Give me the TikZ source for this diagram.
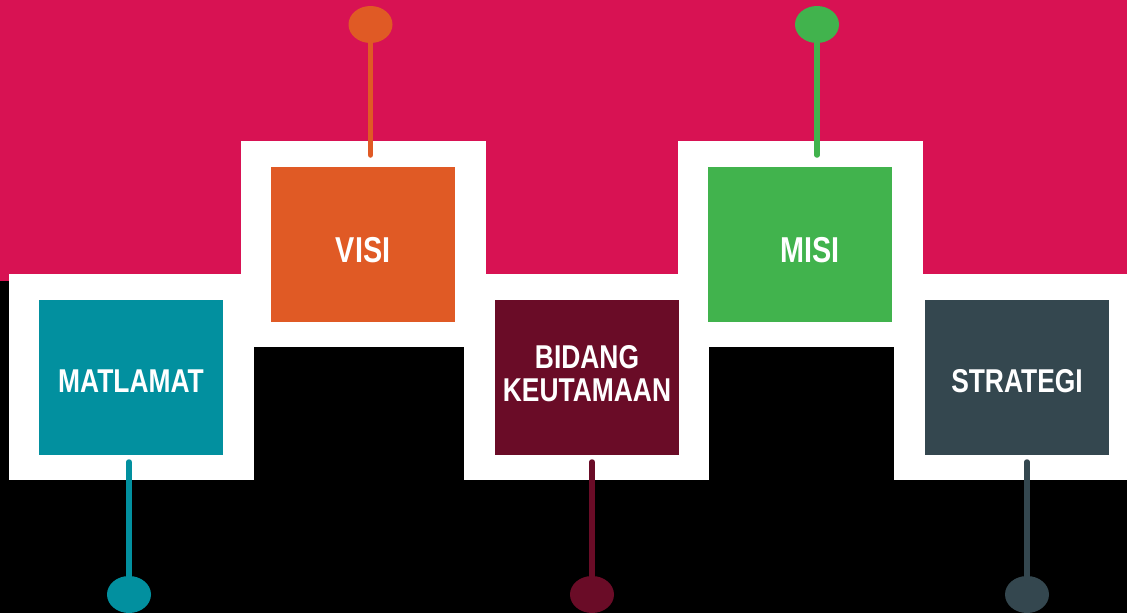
\documentclass[tikz,border=0pt]{standalone}
\usepackage{fontspec}
\newfontfamily\lblfont[FakeStretch=0.8]{Liberation Sans}
\usetikzlibrary{shapes.geometric}
\definecolor{pinkbg}{HTML}{D81253}
\definecolor{cteal}{HTML}{02909F}
\definecolor{corange}{HTML}{E05A25}
\definecolor{cmaroon}{HTML}{6A0C27}
\definecolor{cgreen}{HTML}{41B34D}
\definecolor{cslate}{HTML}{34474F}
\begin{document}
\begin{tikzpicture}[x=1pt,y=-1pt,
  frame/.style={fill=white, inner sep=0pt, outer sep=0pt, minimum width=245pt, minimum height=206pt},
  box/.style={inner sep=0pt, outer sep=0pt, minimum width=184pt, minimum height=155pt},
  lbl/.style={text=white, font=\lblfont\bfseries\fontsize{33}{35}\selectfont, inner sep=0pt, anchor=base},
  lblbig/.style={lbl, font=\lblfont\bfseries\fontsize{36}{38}\selectfont},
  pin/.style={ellipse, inner sep=0pt, outer sep=0pt, minimum width=44pt, minimum height=37pt},
  stick/.style={line width=5.5pt, line cap=round}]
\useasboundingbox (0,0) rectangle (1127,613);
\clip (0,0) rectangle (1127,613);
\fill[black] (0,0) rectangle (1127,613);
\fill[pinkbg] (0,0) rectangle (1127,281);
% white frames
\node[frame] (fM) at (131.5,377) {};
\node[frame] (fV) at (363.5,244) {};
\node[frame] (fB) at (586.5,377) {};
\node[frame] (fI) at (800.5,244) {};
\node[frame] (fS) at (1016.5,377) {};
% boxes
\node[box, fill=cteal]   (matlamat) at (131,377.5) {};
\node[box, fill=corange] (visi)     at (363,244.5) {};
\node[box, fill=cmaroon] (bidang)   at (587,377.5) {};
\node[box, fill=cgreen]  (misi)     at (800,244.5) {};
\node[box, fill=cslate]  (strategi) at (1017,377.5) {};
% labels
\node[lbl] (tM) at (131,392) {MATLAMAT};
\node[lblbig] (tV) at (363,262) {VISI};
\node[lbl] (tB1) at (587,368) {BIDANG};
\node[lbl] (tB2) at (587,401) {KEUTAMAAN};
\node[lblbig] (tI) at (810,262) {MISI};
\node[lbl] (tS) at (1017,392) {STRATEGI};
% pins
\node[pin, fill=corange] (pV) at (370.5,24.5) {};
\node[pin, fill=cgreen]  (pI) at (817,24.5) {};
\node[pin, fill=cteal]   (pM) at (129,594.5) {};
\node[pin, fill=cmaroon] (pB) at (592,594.5) {};
\node[pin, fill=cslate]  (pS) at (1027,594.5) {};
\draw[stick, corange, shorten >=12pt] (pV) -- (pV |- visi.north);
\draw[stick, cgreen,  shorten >=12pt] (pI) -- (pI |- misi.north);
\draw[stick, cteal,   shorten >=7pt] (pM) -- (pM |- matlamat.south);
\draw[stick, cmaroon, shorten >=7pt] (pB) -- (pB |- bidang.south);
\draw[stick, cslate,  shorten >=7pt] (pS) -- (pS |- strategi.south);
\end{tikzpicture}
\end{document}
